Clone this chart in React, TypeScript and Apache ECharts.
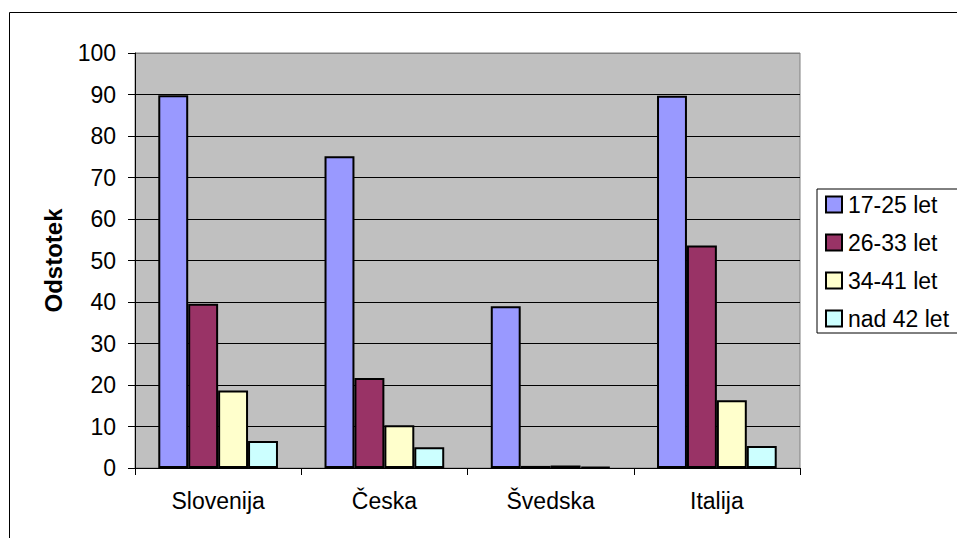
import React, { useEffect, useRef } from "react";
import * as echarts from "echarts";

const categories = ["Slovenija", "Česka", "Švedska", "Italija"];
const seriesNames = ["17-25 let", "26-33 let", "34-41 let", "nad 42 let"];
const s1725 = [89.8, 75.1, 39.0, 89.7];
const s2633 = [39.6, 21.7, 0.5, 53.6];
const s3441 = [18.7, 10.3, 0.6, 16.3];
const s42 = [6.5, 5.0, 0.3, 5.3];
const colors = ["#9999FF", "#993366", "#FFFFCC", "#CCFFFF"];
const yTicks = { min: 0, max: 100, interval: 10 };

export default function App() {
  const ref = useRef<HTMLDivElement>(null);
  useEffect(() => {
    document.body.style.margin = "0";
    const chart = echarts.init(ref.current!, null, { renderer: "svg" });
    const data = [s1725, s2633, s3441, s42];
    const font = "'Liberation Sans', Arial, sans-serif";
    const fs = 23;
    chart.setOption({
      animation: false,
      backgroundColor: "#FFFFFF",
      textStyle: { fontFamily: font },
      graphic: [
        {
          type: "rect",
          shape: { x: 9.5, y: 12.5, width: 1000, height: 600 },
          style: { fill: "none", stroke: "#000", lineWidth: 1 },
          z: -10,
        },
      ],
      grid: {
        left: 135,
        right: 157,
        top: 53,
        bottom: 70,
        show: true,
        backgroundColor: "#C0C0C0",
        borderColor: "#808080",
        borderWidth: 1,
      },
      legend: {
        orient: "vertical",
        left: 817,
        top: 189,
        data: seriesNames,
        itemWidth: 16,
        itemHeight: 16,
        itemGap: 15,
        padding: [4, 40, 3, 8],
        borderColor: "#000",
        borderWidth: 1,
        backgroundColor: "#fff",
        textStyle: { fontSize: fs, color: "#000", fontFamily: font, padding: [0, 0, 0, 1] },
        icon: "rect",
        itemStyle: { borderColor: "#000", borderWidth: 2 },
      },
      xAxis: {
        type: "category",
        data: categories,
        axisLine: { lineStyle: { color: "#000", width: 1 } },
        axisTick: { show: true, inside: false, length: 7, lineStyle: { color: "#000" } },
        axisLabel: { fontSize: fs, color: "#000", margin: 21, fontFamily: font },
      },
      yAxis: {
        type: "value",
        min: yTicks.min,
        max: yTicks.max,
        interval: yTicks.interval,
        name: "Odstotek",
        nameLocation: "middle",
        nameGap: 70,
        nameRotate: 90,
        nameTextStyle: { fontSize: 24, fontWeight: "bold", color: "#000", fontFamily: font },
        axisLine: { show: true, lineStyle: { color: "#000", width: 1 } },
        axisTick: { show: true, length: 7, lineStyle: { color: "#000" } },
        axisLabel: { fontSize: fs, color: "#000", margin: 19, fontFamily: font },
        splitLine: {
          show: true,
          lineStyle: {
            color: ["#000", "#000", "#000", "#000", "#000", "#000", "#000", "#000", "#000", "#000", "#808080"],
            width: 1,
          },
        },
      },
      series: seriesNames.map((name, i) => ({
        name,
        type: "bar",
        data: data[i],
        barGap: "0%",
        barCategoryGap: "28%",
        itemStyle: { color: colors[i], borderColor: "#000", borderWidth: 2 },
      })),
    });
    return () => chart.dispose();
  }, []);
  return <div ref={ref} style={{ width: 957, height: 538 }} />;
}
